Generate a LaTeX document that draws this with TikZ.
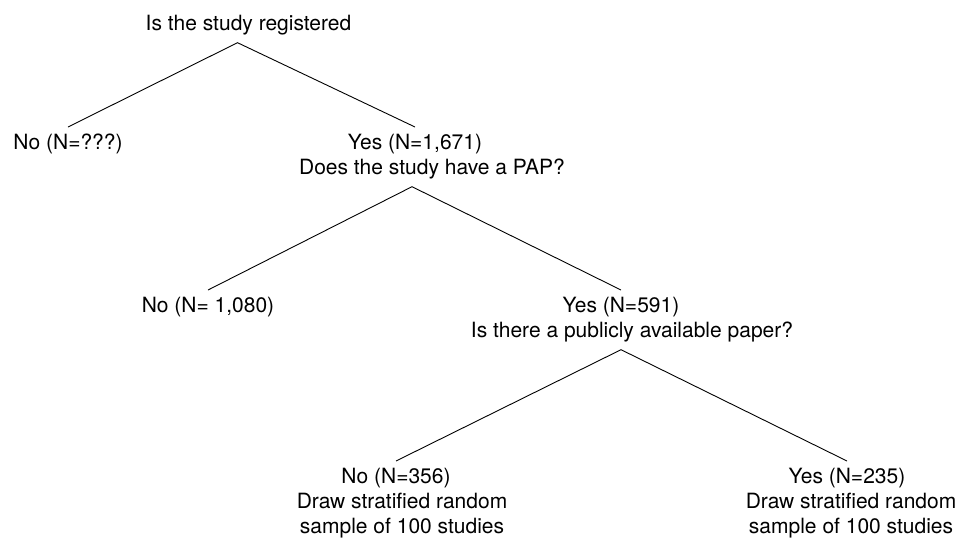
\documentclass[tikz,border=0pt]{standalone}
\usepackage{fontspec}
\setmainfont{TeX Gyre Heros}

\begin{document}
\begin{tikzpicture}[x=0.5pt, y=-0.5pt,
    answer/.style={anchor=north, align=center, inner xsep=0pt, inner ysep=3.5pt,
        font=\fontsize{10.5}{12.5}\selectfont},
    branch/.style={line width=0.45pt}]
    \useasboundingbox (0,0) rectangle (961,542);

    \node [answer] (registered) at (248.5,8) {Is the study registered};
    \node [answer] (noreg) at (68,127) {No (N=???)};
    \node [answer] (yesreg) at (415,127) {Yes (N=1,671)\\\hspace*{17pt}Does the study have a PAP?};
    \node [answer] (nopap) at (208,290) {No (N= 1,080)};
    \node [answer] (yespap) at (621,290) {Yes (N=591)\\\hspace*{11pt}Is there a publicly available paper?};
    \node [answer] (nopaper) at (396,461) {No (N=356)\\\hspace*{6pt}Draw stratified random\\\hspace*{6pt}sample of 100 studies};
    \node [answer] (yespaper) at (847,461) {Yes (N=235)\\\hspace*{4pt}Draw stratified random\\\hspace*{4pt}sample of 100 studies};

    \draw [branch] (noreg.north) -- ([xshift=-5.5pt]registered.south) -- (yesreg.north);
    \draw [branch] (nopap.north) -- ([xshift=-1.5pt]yesreg.south) -- (yespap.north);
    \draw [branch] (nopaper.north) -- (yespap.south) -- (yespaper.north);
\end{tikzpicture}
\end{document}
